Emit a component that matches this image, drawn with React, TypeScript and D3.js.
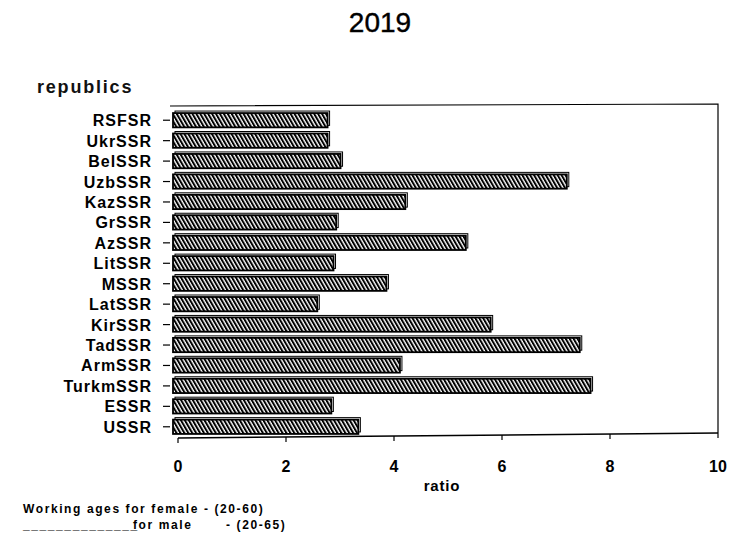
import React from "react";
import * as d3 from "d3";

const categories = ["RSFSR","UkrSSR","BelSSR","UzbSSR","KazSSR","GrSSR","AzSSR","LitSSR","MSSR","LatSSR","KirSSR","TadSSR","ArmSSR","TurkmSSR","ESSR","USSR"];
const ratios = [2.77,2.77,3.01,7.2,4.21,2.93,5.33,2.88,3.86,2.58,5.79,7.44,4.11,7.64,2.84,3.34];
const xTicks = [0,2,4,6,8,10];
const title = "2019";
const yTitle = "republics";
const xTitle = "ratio";

const W = 733, H = 535;
const left = 178, right = 718, top = 110, bottom = 437;

export default function App() {
  const x = d3.scaleLinear().domain([0, 10]).range([left, right]);
  const y = d3.scaleBand<string>().domain(categories).range([top, bottom]).paddingInner(0.3).paddingOuter(0.15);
  const bw = y.bandwidth();
  const font = "Arial, 'Liberation Sans', Helvetica, sans-serif";
  const barStart = x(0) - 5;
  return (
    <svg width={W} height={H} style={{ position: "absolute", left: 0, top: 0, background: "#fff" }} fontFamily={font}>
      <defs>
        <pattern id="hatch" patternUnits="userSpaceOnUse" width="3.4" height="8" patternTransform="rotate(-30)">
          <rect width="3.4" height="8" fill="#fff" />
          <line x1="1" y1="0" x2="1" y2="8" stroke="#000" strokeWidth="2" />
        </pattern>
      </defs>
      <rect width={W} height={H} fill="#fff" />
      <text x={380} y={32} textAnchor="middle" fontSize={28} fill="#000" stroke="#000" strokeWidth={0.4}>{title}</text>
      <text x={37} y={93} fontSize={18} fontWeight="bold" letterSpacing={1.8} fill="#111">{yTitle}</text>
      {/* frame */}
      <path d={`M${barStart - 3},${top - 4} L${right},${top - 6} L${right},${bottom - 4}`} fill="none" stroke="#000" strokeWidth={1.2} />
      <path d={`M${x(0)},${bottom + 1} L${right},${bottom - 4}`} fill="none" stroke="#000" strokeWidth={1.4} />
      {xTicks.map((t) => (
        <g key={t}>
          <line x1={x(t)} x2={x(t)} y1={bottom + 1 - (t / 10) * 5} y2={bottom + 6 - (t / 10) * 5} stroke="#000" strokeWidth={1.2} />
          <text x={x(t)} y={472} textAnchor="middle" fontSize={16} fontWeight="bold" fill="#000">{t}</text>
        </g>
      ))}
      <text x={442} y={491} textAnchor="middle" fontSize={15} fontWeight="bold" letterSpacing={0.8} fill="#000">{xTitle}</text>
      {categories.map((c, i) => {
        const yc = (y(c) as number);
        const w = x(ratios[i]) - barStart;
        return (
          <g key={c}>
            <line x1={163} x2={170} y1={yc + bw / 2} y2={yc + bw / 2} stroke="#000" strokeWidth={1.2} />
            <text x={152} y={yc + bw / 2 + 6} textAnchor="end" fontSize={16} fontWeight="bold" letterSpacing={1} fill="#000">{c}</text>
            <rect x={barStart + 2} y={yc - 2} width={w} height={bw} fill="#fff" stroke="#000" strokeWidth={1} />
            <rect x={barStart} y={yc} width={w} height={bw} fill="url(#hatch)" stroke="#000" strokeWidth={1.8} />
          </g>
        );
      })}
      <text x={23} y={513} fontSize={12} fontWeight="bold" letterSpacing={1.6} fill="#000">Working ages for female - (20-60)</text>
      <text x={23} y={529} fontSize={12} fontWeight="bold" letterSpacing={1.6} fill="#000">______________</text>
      <text x={133} y={529} fontSize={12} fontWeight="bold" letterSpacing={1.6} fill="#000">for male</text>
      <text x={226} y={529} fontSize={12} fontWeight="bold" letterSpacing={1.6} fill="#000">- (20-65)</text>
    </svg>
  );
}
